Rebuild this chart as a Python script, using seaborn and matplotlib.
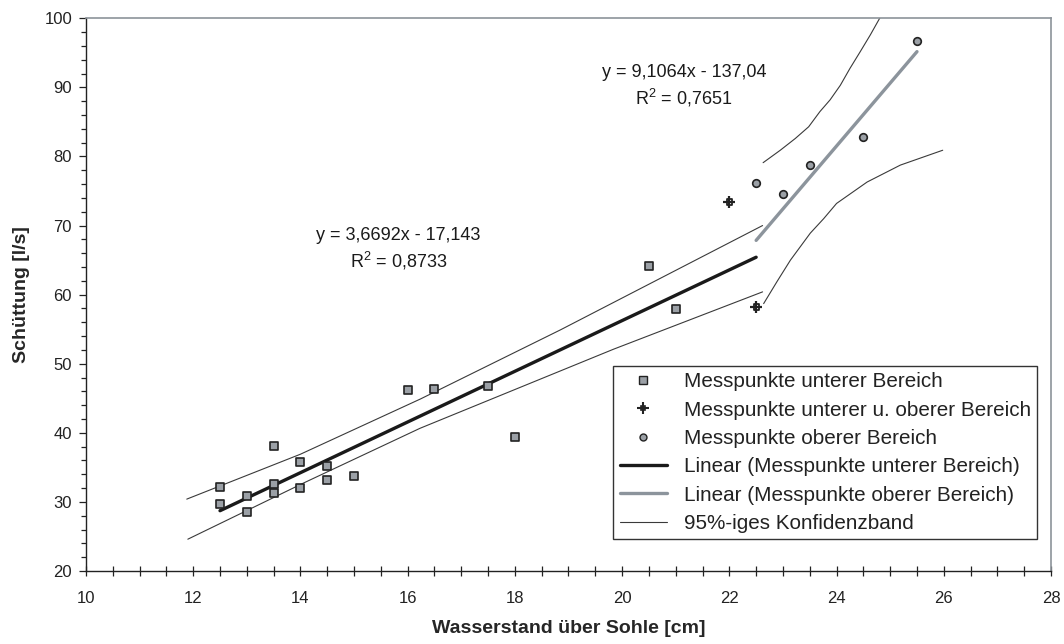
import matplotlib
matplotlib.use("Agg")
import matplotlib.pyplot as plt
from matplotlib.lines import Line2D
from matplotlib.ticker import MultipleLocator
import numpy as np
import pandas as pd
import seaborn as sns

# Messpunkte unterer Bereich
lower_x = [12.5, 12.5, 13.0, 13.0, 13.5, 13.5, 13.5, 14.0, 14.0, 14.5, 14.5, 15.0,
           16.0, 16.5, 17.5, 18.0, 20.5, 21.0]
lower_y = [32.2, 29.7, 30.9, 28.6, 38.1, 32.6, 31.3, 35.8, 32.0, 35.2, 33.2, 33.7,
           46.2, 46.3, 46.8, 39.4, 64.2, 57.9]

# Messpunkte, die zu beiden Bereichen gehören
both_x = [22.0, 22.5]
both_y = [73.4, 58.2]

# Messpunkte oberer Bereich
upper_x = [22.5, 23.0, 23.5, 24.5, 25.5]
upper_y = [76.2, 74.6, 78.8, 82.85, 96.65]

# Regressionsgeraden (Steigung, Achsenabschnitt, Bestimmtheitsmaß, Gültigkeitsbereich)
lower_fit = (3.6692, -17.143, 0.8733, (12.5, 22.5))
upper_fit = (9.1064, -137.04, 0.7651, (22.5, 25.5))

# 95%-Konfidenzband, unterer Bereich
band_lo_top_x = [11.88, 14.0, 16.24, 18.85, 22.62]
band_lo_top_y = [30.4, 36.9, 44.9, 54.9, 70.0]
band_lo_bot_x = [11.9, 14.05, 16.23, 19.84, 22.62]
band_lo_bot_y = [24.6, 32.7, 40.65, 52.1, 60.4]

# 95%-Konfidenzband, oberer Bereich
band_up_top_x = [22.63, 22.95, 23.23, 23.48, 23.69, 23.88, 24.07, 24.25, 24.44,
                 24.63, 24.84, 24.92]
band_up_top_y = [79.1, 80.9, 82.6, 84.3, 86.5, 88.2, 90.3, 92.75, 95.15,
                 97.6, 100.5, 101.6]
band_up_bot_x = [22.64, 22.89, 23.14, 23.51, 23.76, 24.0, 24.57, 25.19, 25.98]
band_up_bot_y = [58.7, 61.9, 65.0, 68.9, 71.0, 73.2, 76.3, 78.75, 80.9]

x_ticks = list(range(10, 29, 2))
y_ticks = list(range(20, 101, 10))

sns.set_style("ticks")
plt.rcParams["font.family"] = ["Liberation Sans", "DejaVu Sans"]
plt.rcParams["mathtext.fontset"] = "custom"
plt.rcParams["mathtext.rm"] = "Liberation Sans"

fig = plt.figure(figsize=(10.64, 6.44), dpi=100)
ax = fig.add_axes([0.0808, 0.1134, 0.9070, 0.8582])

dark = "#222222"
grey_fill = "#9ba0a6"
grey_line = "#8c949c"
band_col = "#3a3a3a"


def fit_line(params):
    m, b, _, (x0, x1) = params
    xs = np.array([x0, x1])
    return pd.DataFrame({"x": xs, "y": m * xs + b})


# Konfidenzbänder
for bx, by in [(band_lo_top_x, band_lo_top_y), (band_lo_bot_x, band_lo_bot_y),
               (band_up_top_x, band_up_top_y), (band_up_bot_x, band_up_bot_y)]:
    sns.lineplot(x=bx, y=by, ax=ax, color=band_col, lw=0.8, sort=False,
                 estimator=None)

# Regressionsgeraden
sns.lineplot(data=fit_line(lower_fit), x="x", y="y", ax=ax, color="#1a1a1a",
             lw=2.4, estimator=None)
sns.lineplot(data=fit_line(upper_fit), x="x", y="y", ax=ax, color=grey_line,
             lw=2.4, estimator=None)

# Messpunkte
sns.scatterplot(x=lower_x, y=lower_y, ax=ax, marker="s", s=34, color=grey_fill,
                edgecolor=dark, linewidth=1.2, zorder=5)
sns.scatterplot(x=upper_x, y=upper_y, ax=ax, marker="o", s=30, color=grey_fill,
                edgecolor=dark, linewidth=1.2, zorder=5)
sns.scatterplot(x=both_x, y=both_y, ax=ax, marker="s", s=14, facecolor="none",
                edgecolor=dark, linewidth=1.3, zorder=5)
sns.scatterplot(x=both_x, y=both_y, ax=ax, marker="+", s=70, color=dark,
                linewidth=1.6, zorder=5)

# Gleichungen der Regressionsgeraden
txt_kw = dict(ha="center", va="center", fontsize=13, color="#1a1a1a")
for params, (tx, ty) in [(lower_fit, (15.83, 68.6)), (upper_fit, (21.15, 92.2))]:
    m, b, r2, _ = params
    eq = f"y = {m:.4f}x - {abs(b):g}".replace(".", ",")
    ax.text(tx, ty, eq, **txt_kw)
    ax.text(tx, ty - 3.7, f"R$^2$ = {r2:.4f}".replace(".", ","), **txt_kw)

ax.set_xlim(10, 28)
ax.set_ylim(20, 100)
ax.set_xticks(x_ticks)
ax.set_yticks(y_ticks)
ax.xaxis.set_minor_locator(MultipleLocator(0.5))
ax.yaxis.set_minor_locator(MultipleLocator(2))

ax.tick_params(axis="x", which="both", direction="inout", length=7, width=0.9,
               color=dark, labelsize=12, pad=11, labelcolor="#222222")
ax.tick_params(axis="y", which="major", direction="out", length=5, width=0.9,
               color=dark, labelsize=12, pad=5, labelcolor="#222222")
ax.tick_params(axis="y", which="minor", direction="out", length=3.5, width=0.9,
               color=dark)

for side in ["left", "bottom"]:
    ax.spines[side].set_color(dark)
    ax.spines[side].set_linewidth(1.0)
for side in ["top", "right"]:
    ax.spines[side].set_color("#8c939a")
    ax.spines[side].set_linewidth(1.2)

ax.set_xlabel("Wasserstand über Sohle [cm]", fontsize=14, fontweight="bold",
              labelpad=10)
ax.set_ylabel("Schüttung [l/s]", fontsize=14, fontweight="bold", labelpad=10)

# Legende
handles = [
    Line2D([], [], ls="none", marker="s", ms=5.5, mfc=grey_fill, mec=dark, mew=1.0),
    (Line2D([], [], ls="none", marker="s", ms=3.5, mfc="none", mec=dark, mew=1.2),
     Line2D([], [], ls="none", marker="+", ms=8, mec=dark, mew=1.5)),
    Line2D([], [], ls="none", marker="o", ms=5, mfc=grey_fill, mec=dark, mew=1.0),
    Line2D([], [], color="#1a1a1a", lw=2.4),
    Line2D([], [], color=grey_line, lw=2.4),
    Line2D([], [], color=band_col, lw=0.8),
]
labels = [
    "Messpunkte unterer Bereich",
    "Messpunkte unterer u. oberer Bereich",
    "Messpunkte oberer Bereich",
    "Linear (Messpunkte unterer Bereich)",
    "Linear (Messpunkte oberer Bereich)",
    "95%-iges Konfidenzband",
]
leg = ax.legend(handles, labels, loc="upper right", bbox_to_anchor=(0.9855, 0.3707),
                fontsize=14.9, frameon=True, fancybox=False, framealpha=1,
                edgecolor="#333333", handlelength=2.3, handletextpad=0.8,
                labelspacing=0.45, borderpad=0.3, borderaxespad=0)
leg.get_frame().set_linewidth(1.0)
for t in leg.get_texts():
    t.set_color("#222222")

fig.savefig("out.png", dpi=100)
